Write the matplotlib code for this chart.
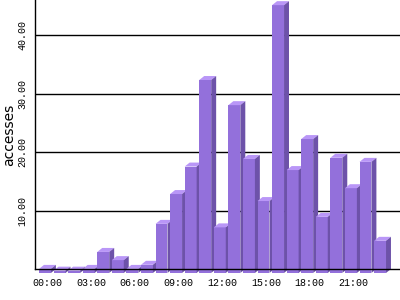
"""
Hourly accesses as a faux-3D bar chart (24 hours).
"""
import numpy as np
import matplotlib
matplotlib.use("Agg")
import matplotlib.pyplot as plt
from matplotlib.patches import Polygon

# Data
hours    = [f"{h:02d}:00" for h in range(24)]
accesses = [0.7, 0.4, 0.4, 0.7, 3.6, 2.2, 0.7, 1.4,
            8.4, 13.5, 18.2, 33.0, 7.8, 28.7, 19.5, 12.3,
            45.8, 17.6, 22.9, 9.6, 19.7, 14.5, 19.0, 5.5]
y_ticks  = [10, 20, 30, 40]
x_tick_every = 3

FRONT = "#9370db"
TOP   = "#b996f7"
SIDE  = "#6d52a9"

# bar geometry in data units (1 slot per hour)
W  = 0.82   # front face width
DX = 0.34   # depth to the right
DY = 0.68   # depth upward (value units)

fig = plt.figure(figsize=(4, 3), dpi=100)
ax  = fig.add_axes([35 / 400, 1 - 269 / 300, 365 / 400, 269 / 300])

for i, v in enumerate(accesses):
    x = i
    front = Polygon([(x, -DY), (x + W, -DY), (x + W, v - DY), (x, v - DY)],
                    closed=True, facecolor=FRONT, edgecolor="none",
                    clip_on=False, zorder=1)
    top = Polygon([(x, v - DY), (x + W, v - DY), (x + W + DX, v), (x + DX, v)],
                  closed=True, facecolor=TOP, edgecolor="none",
                  clip_on=False, zorder=1)
    side = Polygon([(x + W, -DY), (x + W + DX, 0), (x + W + DX, v),
                    (x + W, v - DY)],
                   closed=True, facecolor=SIDE, edgecolor="none",
                   clip_on=False, zorder=1)
    for p in (front, top, side):
        ax.add_patch(p)

ax.set_xlim(-0.275, 24.78)
ax.set_ylim(0, 46)

ax.set_axisbelow(True)
ax.yaxis.grid(True, color="black", lw=1)
ax.xaxis.grid(False)

for s in ("top", "right"):
    ax.spines[s].set_visible(False)
ax.spines["left"].set_linewidth(1)
ax.spines["bottom"].set_linewidth(1)

mono = dict(family="Liberation Mono", size=7.2)
tick_pos = np.arange(0, 24, x_tick_every) + (W + DX) / 2
ax.set_xticks(tick_pos)
ax.set_xticklabels([hours[i] for i in range(0, 24, x_tick_every)], **mono)
ax.set_yticks(y_ticks)
ax.set_yticklabels([f"{t:.2f}" for t in y_ticks], rotation=90,
                   va="center", **mono)
ax.tick_params(axis="both", length=0)
ax.tick_params(axis="x", pad=6.5)
ax.tick_params(axis="y", pad=5.8)

ax.set_ylabel("accesses", family="DejaVu Sans", size=10, va="center")
ax.yaxis.set_label_coords(-0.071, 0.5)

fig.savefig("out.png", dpi=100)
plt.close(fig)
